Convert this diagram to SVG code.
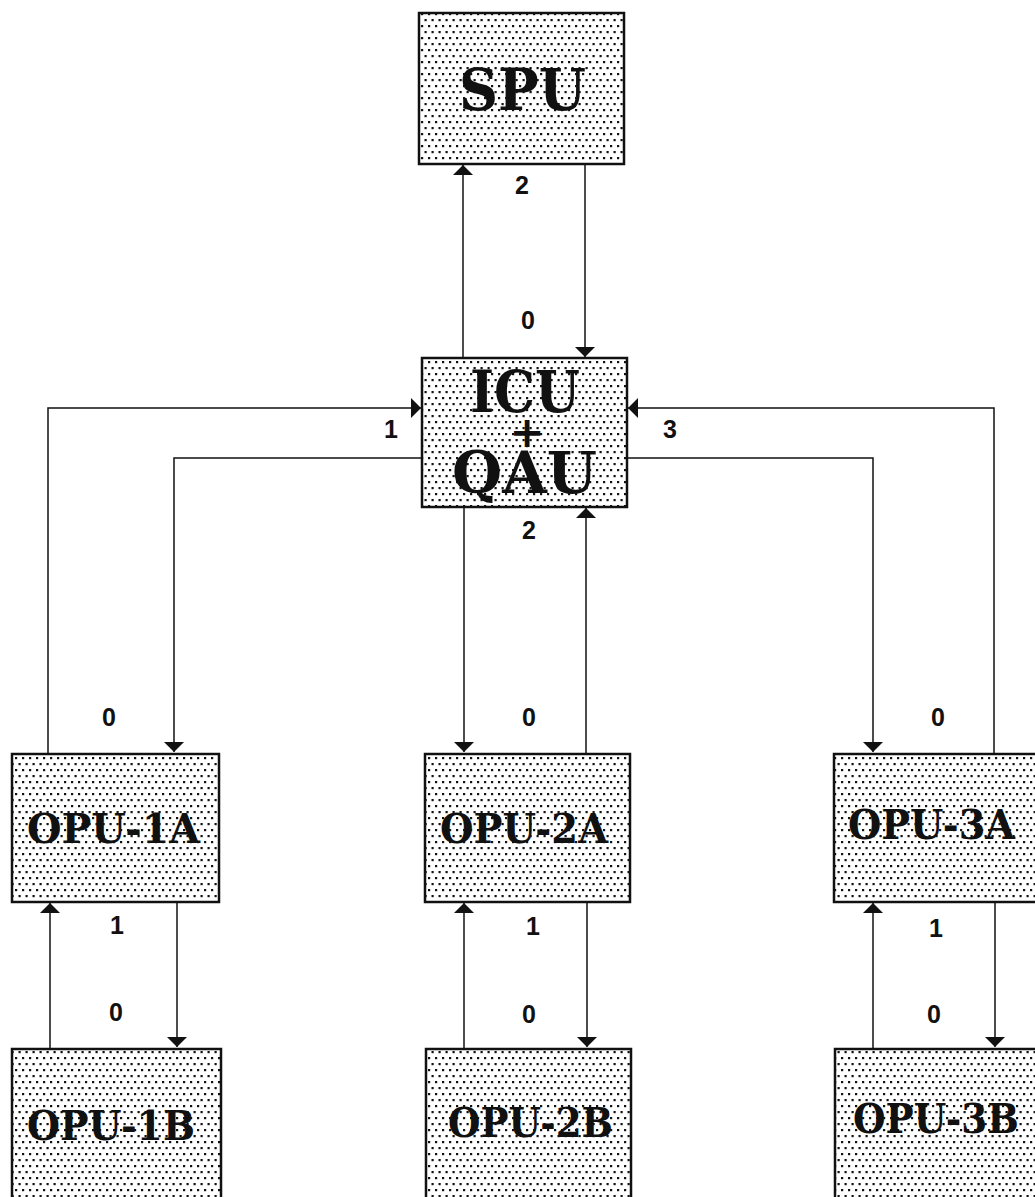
<svg xmlns="http://www.w3.org/2000/svg" width="1035" height="1197" viewBox="0 0 1035 1197">
<defs>
<pattern id="dots" width="7" height="12" patternUnits="userSpaceOnUse">
<rect x="1" y="1" width="2.2" height="2.2" fill="#111"/>
<rect x="4.5" y="7" width="2.2" height="2.2" fill="#111"/>
</pattern>
<marker id="ah" viewBox="0 0 10 20" refX="10" refY="10" markerWidth="11" markerHeight="20" markerUnits="userSpaceOnUse" orient="auto">
<path d="M0,0 L10,10 L0,20 Z" fill="#111"/>
</marker>
<style>
.box{fill:url(#dots);stroke:#111;stroke-width:2.5}
.big{font-family:"DejaVu Serif",serif;font-weight:bold;fill:#111}
.opu{font-family:"DejaVu Serif",serif;font-weight:bold;fill:#111;font-size:41px}
.num{font-family:"Liberation Sans",Arial,sans-serif;font-weight:bold;font-size:25px;fill:#111;text-anchor:middle}
.c{fill:none;stroke:#111;stroke-width:1.5;marker-end:url(#ah)}
</style>
</defs>
<rect width="1035" height="1197" fill="#fff"/>

<g id="connectors">
<path class="c" d="M463,358 V165"/>
<path class="c" d="M585,164 V357"/>
<path class="c" d="M48,753 V408 H421"/>
<path class="c" d="M422,458 H174 V752"/>
<path class="c" d="M994,753 V408 H628"/>
<path class="c" d="M627,458 H873 V752"/>
<path class="c" d="M464,507 V752"/>
<path class="c" d="M586,753 V508"/>
<path class="c" d="M50,1048 V903"/>
<path class="c" d="M177,902 V1047"/>
<path class="c" d="M464,1048 V903"/>
<path class="c" d="M587,902 V1047"/>
<path class="c" d="M873,1048 V903"/>
<path class="c" d="M995,902 V1047"/>
</g>

<g id="spu">
<rect class="box" x="419" y="13" width="205" height="151"/>
<text class="big" x="459" y="110" font-size="58" textLength="127" lengthAdjust="spacingAndGlyphs">SPU</text>
</g>

<g id="icu-qau">
<rect class="box" x="422" y="358" width="205" height="149"/>
<text class="big" x="470" y="412" font-size="58" textLength="110" lengthAdjust="spacingAndGlyphs">ICU</text>
<text class="big" x="527" y="447" font-size="42" text-anchor="middle">+</text>
<text class="big" x="452" y="493" font-size="58" textLength="145" lengthAdjust="spacingAndGlyphs">QAU</text>
</g>

<g id="opu-1a">
<rect class="box" x="12" y="754" width="207" height="148"/>
<text class="opu" x="27" y="843" textLength="173" lengthAdjust="spacingAndGlyphs">OPU-1A</text>
</g>
<g id="opu-2a">
<rect class="box" x="425" y="754" width="205" height="148"/>
<text class="opu" x="440" y="843" textLength="168" lengthAdjust="spacingAndGlyphs">OPU-2A</text>
</g>
<g id="opu-3a">
<rect class="box" x="834" y="754" width="215" height="148"/>
<text class="opu" x="848" y="839" textLength="167" lengthAdjust="spacingAndGlyphs">OPU-3A</text>
</g>
<g id="opu-1b">
<rect class="box" x="12" y="1049" width="209" height="160"/>
<text class="opu" x="27" y="1140" textLength="168" lengthAdjust="spacingAndGlyphs">OPU-1B</text>
</g>
<g id="opu-2b">
<rect class="box" x="426" y="1049" width="205" height="160"/>
<text class="opu" x="448" y="1137" textLength="165" lengthAdjust="spacingAndGlyphs">OPU-2B</text>
</g>
<g id="opu-3b">
<rect class="box" x="835" y="1049" width="215" height="160"/>
<text class="opu" x="853" y="1133" textLength="166" lengthAdjust="spacingAndGlyphs">OPU-3B</text>
</g>

<g id="labels">
<text class="num" x="522" y="194">2</text>
<text class="num" x="528" y="329">0</text>
<text class="num" x="391" y="438">1</text>
<text class="num" x="670" y="438">3</text>
<text class="num" x="529" y="539">2</text>
<text class="num" x="109" y="726">0</text>
<text class="num" x="529" y="726">0</text>
<text class="num" x="938" y="726">0</text>
<text class="num" x="117" y="934">1</text>
<text class="num" x="533" y="935">1</text>
<text class="num" x="936" y="937">1</text>
<text class="num" x="116" y="1021">0</text>
<text class="num" x="529" y="1023">0</text>
<text class="num" x="934" y="1023">0</text>
</g>
</svg>
